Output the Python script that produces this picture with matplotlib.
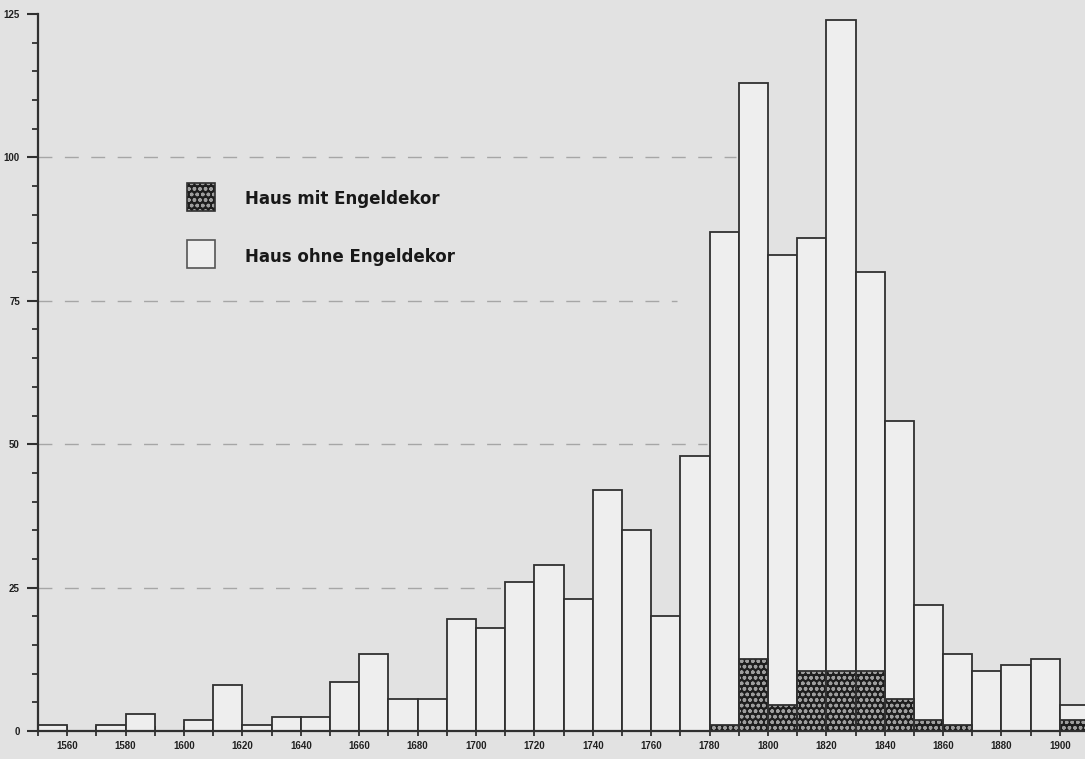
import matplotlib

matplotlib.use("Agg")
import matplotlib.pyplot as plt
from matplotlib.patches import Rectangle

# decades (start year) and counts
decades = list(range(1550, 1901, 10))
houses_total = [1, 0, 1, 3, 0, 2, 8, 1, 2.5, 2.5,
                8.5, 13.5, 5.5, 5.5, 19.5, 18, 26, 29, 23, 42,
                35, 20, 48, 87, 113, 83, 86, 124, 80, 54,
                22, 13.5, 10.5, 11.5, 12.5, 4.5]
houses_angel = [0, 0, 0, 0, 0, 0, 0, 0, 0, 0,
                0, 0, 0, 0, 0, 0, 0, 0, 0, 0,
                0, 0, 0, 1, 12.5, 4.5, 10.5, 10.5, 10.5, 5.5,
                2, 1, 0, 0, 0, 2]
grid_levels = [25, 50, 75, 100]
grid_ends = [1709, 1779, 1769, 1789]
y_ticks = [0, 25, 50, 75, 100, 125]
x_label_years = list(range(1560, 1901, 20))
legend_labels = ["Haus mit Engeldekor", "Haus ohne Engeldekor"]

BG = "#e2e2e2"
BAR = "#eeeeee"
EDGE = "#303030"
DARK = "#1e1e1e"
DOTS = "#9e9e9e"

plt.rcParams["font.family"] = ["Liberation Sans", "DejaVu Sans"]
plt.rcParams["hatch.linewidth"] = 1.0

fig = plt.figure(figsize=(10.85, 7.59), dpi=100, facecolor=BG)
ax = fig.add_axes([0.035, 0.0369, 0.965, 0.9447])
ax.set_facecolor(BG)

for lvl, end in zip(grid_levels, grid_ends):
    ax.hlines(lvl, decades[0], end, colors="#a6a6a6", linewidth=1.0,
              linestyles=(0, (10, 9)), zorder=1)

ax.bar(decades, houses_total, width=10, align="edge", facecolor=BAR,
       edgecolor=EDGE, linewidth=1.3, zorder=2)

angel_x = [d for d, v in zip(decades, houses_angel) if v > 0]
angel_v = [v for v in houses_angel if v > 0]
ax.bar(angel_x, angel_v, width=10, align="edge", facecolor=DARK,
       edgecolor=DOTS, hatch="ooo", linewidth=0, zorder=3)
ax.bar(angel_x, angel_v, width=10, align="edge", fill=False,
       edgecolor=EDGE, linewidth=1.3, zorder=4)

ax.set_xlim(1550, 1908.6)
ax.set_ylim(0, 125)

ax.set_xticks(decades)
ax.set_xticklabels([str(d) if d in x_label_years else "" for d in decades])
ax.set_yticks(y_ticks)
ax.set_yticks(range(0, 126, 5), minor=True)
ax.tick_params(axis="x", direction="inout", length=7, width=1.3, color=EDGE,
               labelsize=7, pad=4, labelcolor="#202020")
ax.tick_params(axis="y", which="major", direction="out", length=8, width=1.5,
               color=EDGE, labelsize=7, pad=5, labelcolor="#202020")
ax.tick_params(axis="y", which="minor", direction="out", length=4, width=1.3,
               color=EDGE)
for lab in ax.get_yticklabels() + ax.get_xticklabels():
    lab.set_fontweight("bold")

for side in ["top", "right"]:
    ax.spines[side].set_visible(False)
for side in ["left", "bottom"]:
    ax.spines[side].set_linewidth(1.6)
    ax.spines[side].set_color(EDGE)

# legend drawn by hand, in figure coordinates
fig.patches.append(Rectangle((0.1724, 0.722), 0.0258, 0.0369, transform=fig.transFigure,
                             facecolor=DARK, edgecolor=DOTS, hatch="ooo",
                             linewidth=0, zorder=5))
fig.patches.append(Rectangle((0.1724, 0.722), 0.0258, 0.0369, transform=fig.transFigure,
                             fill=False, edgecolor=EDGE, linewidth=1.2, zorder=6))
fig.patches.append(Rectangle((0.1724, 0.6469), 0.0258, 0.0369, transform=fig.transFigure,
                             facecolor=BAR, edgecolor="#555555", linewidth=1.2, zorder=5))
fig.text(0.2258, 0.7378, legend_labels[0], fontsize=12, fontweight="bold",
         family="DejaVu Sans", va="center", ha="left", color="#181818")
fig.text(0.2258, 0.6614, legend_labels[1], fontsize=12, fontweight="bold",
         family="DejaVu Sans", va="center", ha="left", color="#181818")

fig.savefig("out.png", dpi=100, facecolor=BG)
plt.close(fig)
